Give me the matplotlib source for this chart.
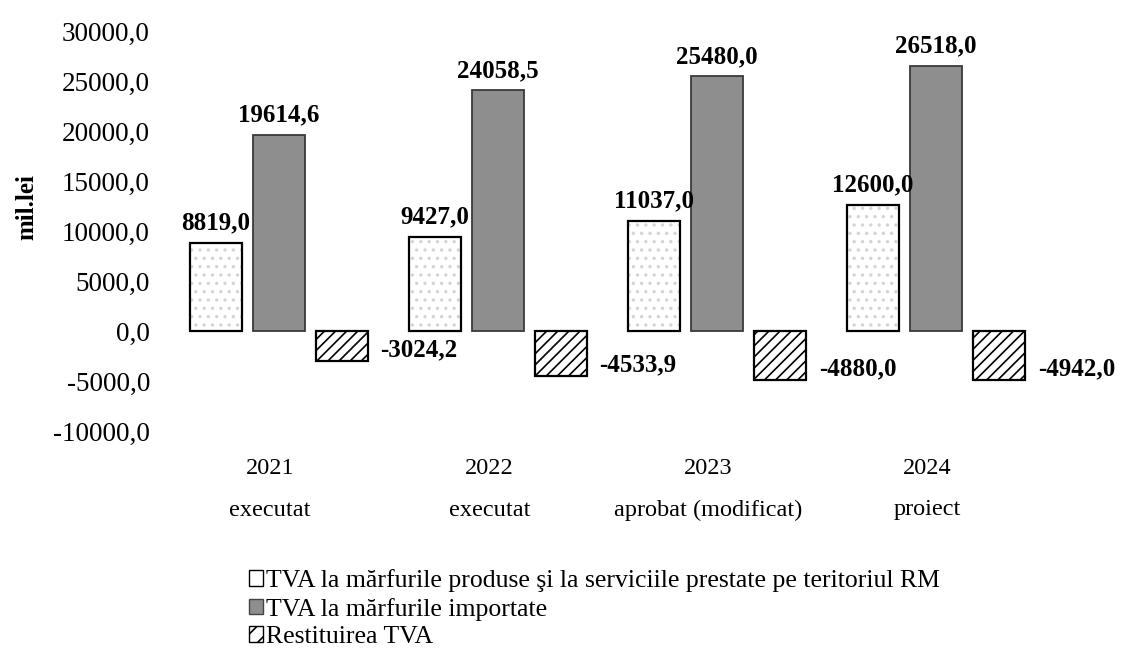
import numpy as np
import matplotlib
matplotlib.use("Agg")
import matplotlib.pyplot as plt
from matplotlib.patches import Patch
from matplotlib.transforms import blended_transform_factory

plt.rcParams['font.family'] = ['Liberation Serif', 'DejaVu Serif']
plt.rcParams['hatch.linewidth'] = 1.2

years = ['2021', '2022', '2023', '2024']
status = ['executat', 'executat', 'aprobat (modificat)', 'proiect']
tva_intern = [8819.0, 9427.0, 11037.0, 12600.0]
tva_import = [19614.6, 24058.5, 25480.0, 26518.0]
restituire = [-3024.2, -4533.9, -4880.0, -4942.0]
series_names = [
    'TVA la mărfurile produse şi la serviciile prestate pe teritoriul RM',
    'TVA la mărfurile importate',
    'Restituirea TVA',
]


def fmt(v):
    return f"{v:.1f}".replace('.', ',')


fig = plt.figure(figsize=(11.22, 6.48), dpi=100)
ax = fig.add_axes([0.151, 0.335, 0.781, 0.617])

x = np.arange(len(years))
w = 0.237
step = 0.288

# white dotted bars: light dots, then black outline on top
ax.bar(x - step, tva_intern, w, color='white', edgecolor='#d4d4d4', hatch='..', linewidth=0)
ax.bar(x - step, tva_intern, w, color='none', edgecolor='black', linewidth=1.6)
# grey imported
ax.bar(x, tva_import, w, color='#8e8e8e', edgecolor='#3a3a3a', linewidth=1.3)
# hatched refunds
ax.bar(x + step, restituire, w, color='white', edgecolor='black', hatch='///', linewidth=1.6)

lab_font = dict(fontsize=18, fontweight='bold', color='black')
for i in range(len(years)):
    ax.annotate(fmt(tva_intern[i]), (x[i] - step, tva_intern[i]), xytext=(0, 6),
                textcoords='offset points', ha='center', va='bottom', **lab_font)
    ax.annotate(fmt(tva_import[i]), (x[i], tva_import[i]), xytext=(0, 6),
                textcoords='offset points', ha='center', va='bottom', **lab_font)
    ax.annotate(fmt(restituire[i]), (x[i] + step + w / 2, restituire[i]), xytext=(9, 8),
                textcoords='offset points', ha='left', va='center', **lab_font)

ax.set_xlim(-0.5, 3.5)
ax.set_ylim(-10000, 30000)
yt = np.arange(-10000, 30001, 5000)
ax.set_yticks(yt)
ax.set_yticklabels([fmt(v) for v in yt], fontsize=19.5)
ax.set_xticks([])
ax.tick_params(length=0)
ax.tick_params(axis='y', pad=14)
for s in ax.spines.values():
    s.set_visible(False)

# two-row category labels
tr = blended_transform_factory(ax.transData, fig.transFigure)
for i in range(len(years)):
    ax.text(x[i] - 0.04, 1 - 469 / 648, years[i], transform=tr, ha='center', va='center', fontsize=17.5)
    ax.text(x[i] - 0.04, 1 - 510 / 648, status[i], transform=tr, ha='center', va='center', fontsize=17.5)

ax.set_ylabel('mil.lei', fontsize=18, fontweight='bold')
ax.yaxis.set_label_coords(-0.149, 0.56)

handles = [
    Patch(facecolor='white', edgecolor='black', linewidth=1),
    Patch(facecolor='#8e8e8e', edgecolor='#444444', linewidth=1),
    Patch(facecolor='white', edgecolor='black', hatch='//', linewidth=1),
]
fig.legend(handles, series_names, loc='upper left', bbox_to_anchor=(0.222, 1 - 569 / 648),
           bbox_transform=fig.transFigure, frameon=False, fontsize=18.5,
           handlelength=0.55, handleheight=0.55, handletextpad=0.12, labelspacing=0.22,
           borderpad=0, borderaxespad=0)

fig.savefig('out.png', dpi=100)
